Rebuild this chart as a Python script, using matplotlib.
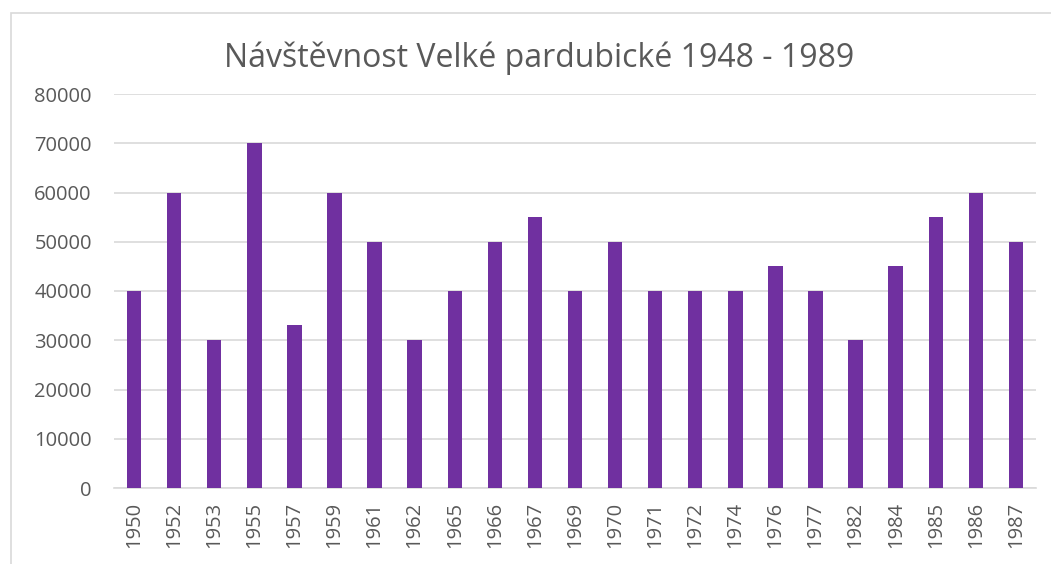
import matplotlib
matplotlib.use("Agg")
import matplotlib.pyplot as plt
from matplotlib.patches import Rectangle

# data
years = ["1950", "1952", "1953", "1955", "1957", "1959", "1961", "1962", "1965",
         "1966", "1967", "1969", "1970", "1971", "1972", "1974", "1976", "1977",
         "1982", "1984", "1985", "1986", "1987"]
visitors = [40000, 60000, 30000, 70000, 33000, 60000, 50000, 30000, 40000,
            50000, 55000, 40000, 50000, 40000, 40000, 40000, 45000, 40000,
            30000, 45000, 55000, 60000, 50000]
y_ticks = [0, 10000, 20000, 30000, 40000, 50000, 60000, 70000, 80000]

plt.rcParams["font.family"] = ["Open Sans", "DejaVu Sans"]
text_col = "#595959"
grid_col = "#d9d9d9"

fig = plt.figure(figsize=(10.51, 5.64), dpi=100)
ax = fig.add_axes([114 / 1051, 76 / 564, 922 / 1051, 394 / 564])

# chart frame like the office chart border
fig.patches.append(Rectangle((11 / 1051, -0.1), 1.2, (564 - 13) / 564 + 0.1,
                             transform=fig.transFigure, fill=False,
                             edgecolor=grid_col, linewidth=1.2))

x = range(len(years))
ax.bar(x, visitors, width=0.36, color="#7030a0", zorder=3)

ax.set_xlim(-0.5, len(years) - 0.5)
ax.set_ylim(0, 80000)
ax.set_yticks(y_ticks)
ax.set_yticklabels([str(v) for v in y_ticks])
ax.set_xticks(list(x))
ax.set_xticklabels(years, rotation=90)

ax.grid(axis="y", color=grid_col, linewidth=1.2, zorder=0)
for s in ["top", "right", "left"]:
    ax.spines[s].set_visible(False)
ax.spines["bottom"].set_color(grid_col)
ax.spines["bottom"].set_linewidth(1.2)

ax.tick_params(axis="both", length=0, colors=text_col, labelsize=14.5)
ax.tick_params(axis="y", pad=16)
ax.tick_params(axis="x", pad=10)

fig.text(539 / 1051, 1 - 58 / 564, "Návštěvnost Velké pardubické 1948 - 1989",
         ha="center", va="center", fontsize=23, color=text_col)

fig.savefig("out.png", dpi=100)
